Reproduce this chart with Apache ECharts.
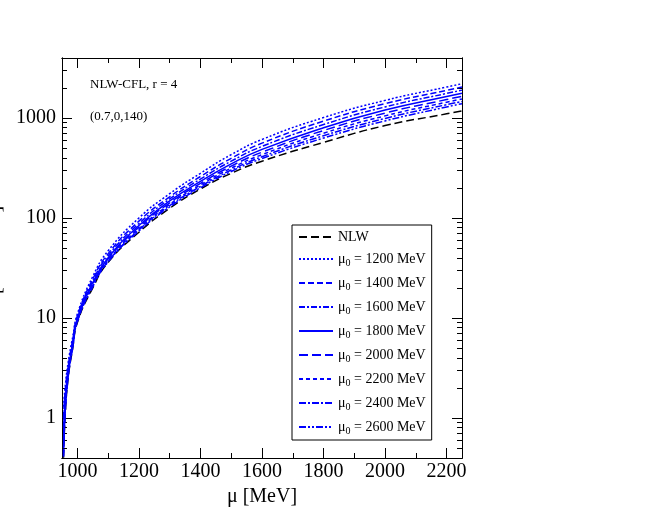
<!DOCTYPE html>
<html lang="en">
<head>
  <meta charset="UTF-8">
  <title>NLW-CFL</title>
  <script src="https://cdn.jsdelivr.net/npm/echarts@6/dist/echarts.min.js"></script>
</head>
<body style="margin:0">
  <div id="main" style="width: 658px;height: 529px;"></div>
</body>
<script>
  // mu [MeV]
  var mu = [955, 960, 970, 985, 1000, 1050, 1100, 1200, 1300, 1400, 1500, 1600, 1800, 2000, 2200, 2250]
  var pNLW = [0.4, 1.0, 2.5, 5, 9, 20, 36, 72, 125, 195, 280, 370, 570, 840, 1100, 1180]
  var p1200 = [1.3, 2.0, 3.6, 6.5, 11, 26, 47, 100, 175, 280, 430, 610, 1010, 1500, 2040, 2200]
  var p1400 = [1.0, 1.8, 3.3, 6.1, 10.5, 24.5, 44, 93, 163, 260, 395, 560, 930, 1390, 1890, 2040]
  var p1600 = [0.8, 1.6, 3.1, 5.8, 10.2, 23.5, 42, 88, 155, 245, 370, 520, 860, 1290, 1760, 1900]
  var p1800 = [0.6, 1.4, 2.9, 5.6, 9.9, 22.5, 40, 84, 148, 232, 348, 485, 800, 1200, 1640, 1770]
  var p2000 = [0.5, 1.3, 2.8, 5.4, 9.7, 22, 39, 81, 142, 222, 330, 455, 750, 1120, 1530, 1650]
  var p2200 = [0.45, 1.2, 2.7, 5.3, 9.5, 21.5, 38, 78, 137, 214, 315, 430, 705, 1050, 1440, 1550]
  var p2400 = [0.42, 1.1, 2.6, 5.2, 9.3, 21, 37, 76, 133, 207, 302, 410, 665, 990, 1360, 1460]
  var p2600 = [0.41, 1.05, 2.55, 5.1, 9.2, 20.5, 36.5, 74, 129, 201, 292, 393, 630, 935, 1290, 1390]
  var xMajor = [1000, 1200, 1400, 1600, 1800, 2000, 2200]
  var xMinor = [1100, 1300, 1500, 1700, 1900, 2100]
  var yMajor = [1, 10, 100, 1000]
  var yMinor = [0.5, 0.6, 0.7, 0.8, 0.9, 2, 3, 4, 5, 6, 7, 8, 9, 20, 30, 40, 50, 60, 70, 80, 90,
    200, 300, 400, 500, 600, 700, 800, 900, 2000, 3000]

  var font = 'Liberation Serif'
  var blue = '#0000ff'
  var charts = echarts.init(document.getElementById('main'));

  function xAx(pos, ticks, len, labels) {
    return {
      type: 'value', min: 950, max: 2250, position: pos,
      axisLine: { show: true, lineStyle: { color: '#000', width: 1 } },
      axisTick: { inside: true, length: len, customValues: ticks, lineStyle: { color: '#000' } },
      axisLabel: { show: labels, customValues: ticks, formatter: function (v) { return String(v) },
        fontFamily: font, fontSize: 20, color: '#000', margin: 4 },
      splitLine: { show: false }
    }
  }
  function yAx(pos, ticks, len, labels) {
    return {
      type: 'log', logBase: 10, min: 0.398, max: 3981, position: pos,
      axisLine: { show: true, lineStyle: { color: '#000', width: 1 } },
      axisTick: { inside: true, length: len, customValues: ticks, lineStyle: { color: '#000' } },
      axisLabel: { show: labels, customValues: ticks, formatter: function (v) { return String(v) },
        fontFamily: font, fontSize: 20, color: '#000', margin: 6 },
      splitLine: { show: false }
    }
  }

  var xb = xAx('bottom', xMajor, 10, true)
  xb.name = 'μ [MeV]'
  xb.nameLocation = 'middle'
  xb.nameGap = 28
  xb.nameTextStyle = { fontFamily: font, fontSize: 20, color: '#000' }
  var yl = yAx('left', yMajor, 10, true)
  yl.name = 'P [MeV/fm³]'
  yl.nameLocation = 'middle'
  yl.nameGap = 56
  yl.nameTextStyle = { fontFamily: font, fontSize: 20, color: '#000' }

  var styles = [
    ['NLW', pNLW, '#000', [8, 4]],
    ['1200', p1200, blue, [2, 2]],
    ['1400', p1400, blue, [6, 3]],
    ['1600', p1600, blue, [6, 2, 2, 2]],
    ['1800', p1800, blue, 'solid'],
    ['2000', p2000, blue, [9, 4]],
    ['2200', p2200, blue, [4, 3]],
    ['2400', p2400, blue, [7, 2, 2, 2]],
    ['2600', p2600, blue, [7, 2, 2, 2, 2, 2]]
  ]

  var option = {
    animation: false,
    grid: { left: 62, top: 58, width: 400, height: 400, containLabel: false, outerBoundsMode: 'none' },
    xAxis: [xb, xAx('bottom', xMinor, 5, false), xAx('top', xMajor, 10, false), xAx('top', xMinor, 5, false)],
    yAxis: [yl, yAx('left', yMinor, 5, false), yAx('right', yMajor, 10, false), yAx('right', yMinor, 5, false)],
    legend: {
      orient: 'vertical', left: 292, top: 225, width: 148,
      backgroundColor: '#fff', borderColor: '#000', borderWidth: 1,
      padding: [5, 6, 4, 6], itemGap: 8, itemWidth: 34, itemHeight: 12,
      itemStyle: { opacity: 0 },
      data: styles.map(function (s) { return s[0] == 'NLW' ? 'NLW' : 'μ0 = ' + s[0] + ' MeV' }),
      formatter: function (name) {
        if (name == 'NLW') return 'NLW'
        return 'μ{s|0} = ' + name.slice(5)
      },
      textStyle: { fontFamily: font, fontSize: 14, color: '#000', rich: { s: { fontFamily: font, fontSize: 10, padding: [8, 0, 0, 0] } } }
    },
    graphic: [
      { type: 'text', left: 90, top: 78, style: { text: 'NLW-CFL, r = 4', font: '13px "Liberation Serif"', fill: '#000' } },
      { type: 'text', left: 90, top: 110, style: { text: '(0.7,0,140)', font: '13px "Liberation Serif"', fill: '#000' } }
    ],
    series: styles.map(function (s) {
      return {
        name: s[0] == 'NLW' ? 'NLW' : 'μ0 = ' + s[0] + ' MeV',
        type: 'line', smooth: true, showSymbol: false, symbol: 'none', clip: true,
        data: mu.map(function (m, i) { return [m, s[1][i]] }),
        lineStyle: { color: s[2], width: 1.5, type: s[3] },
        itemStyle: { color: s[2] }
      }
    })
  };
  charts.setOption(option);
</script>
</html>
